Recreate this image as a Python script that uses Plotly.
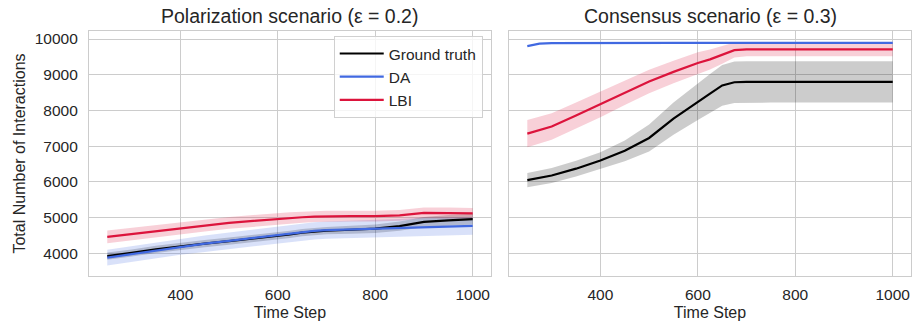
import plotly.graph_objects as go
from plotly.subplots import make_subplots

# ---- data ----
time_steps = [250, 275, 300, 350, 400, 450, 500, 550, 600, 625, 650, 675, 700, 750, 800, 850, 900, 950, 1000]

# Polarization scenario (eps = 0.2)
gt_pol = [3920, 3960, 4010, 4110, 4200, 4270, 4340, 4410, 4480, 4530, 4580, 4610, 4635, 4660, 4690, 4760, 4880, 4920, 4955]
gt_pol_sd = [100, 100, 100, 100, 100, 100, 100, 100, 100, 100, 100, 100, 100, 110, 120, 130, 140, 150, 150]
da_pol = [3880, 3930, 3990, 4090, 4190, 4270, 4350, 4430, 4510, 4550, 4600, 4630, 4650, 4670, 4690, 4710, 4750, 4765, 4770]
da_pol_sd = [220, 220, 222, 225, 228, 230, 232, 235, 238, 240, 240, 242, 244, 245, 246, 248, 250, 250, 250]
lbi_pol = [4460, 4500, 4550, 4630, 4710, 4780, 4850, 4910, 4970, 4990, 5010, 5030, 5040, 5040, 5040, 5060, 5130, 5130, 5120]
lbi_pol_sd = [180, 178, 176, 172, 170, 168, 165, 162, 160, 158, 156, 155, 155, 152, 150, 150, 150, 150, 150]

# Consensus scenario (eps = 0.3)
gt_con = [6050, 6110, 6180, 6370, 6600, 6870, 7230, 7770, 8250, 8470, 8700, 8790, 8800, 8800, 8800, 8800, 8800, 8800, 8800]
gt_con_sd = [200, 205, 210, 220, 230, 290, 380, 450, 520, 550, 570, 580, 580, 580, 580, 580, 580, 580, 580]
da_con = [9800, 9870, 9885, 9890, 9890, 9890, 9890, 9890, 9890, 9890, 9890, 9890, 9890, 9890, 9890, 9890, 9890, 9890, 9890]
da_con_sd = [15, 12, 10, 10, 10, 10, 10, 10, 10, 10, 10, 10, 10, 10, 10, 10, 10, 10, 10]
lbi_con = [7350, 7450, 7550, 7860, 8170, 8500, 8810, 9080, 9330, 9430, 9560, 9690, 9710, 9710, 9710, 9710, 9710, 9710, 9710]
lbi_con_sd = [380, 375, 370, 365, 360, 345, 330, 315, 300, 280, 250, 210, 190, 190, 190, 190, 190, 190, 190]

titles = ["Polarization scenario (ε = 0.2)", "Consensus scenario (ε = 0.3)"]
series_names = ["Ground truth", "DA", "LBI"]
colors = ["#000000", "#4169E1", "#DC143C"]
band_colors = ["rgba(0,0,0,0.2)", "rgba(65,105,225,0.2)", "rgba(220,20,60,0.2)"]

x_ticks = [400, 600, 800, 1000]
y_ticks = [4000, 5000, 6000, 7000, 8000, 9000, 10000]
y_tick_labels = ["4000", "5000", "6000", "7000", "8000", "9000", "10000"]

panels = [
    [(gt_pol, gt_pol_sd), (da_pol, da_pol_sd), (lbi_pol, lbi_pol_sd)],
    [(gt_con, gt_con_sd), (da_con, da_con_sd), (lbi_con, lbi_con_sd)],
]

FONT = "Liberation Sans, Arial, sans-serif"
TXT = "#262626"
GRID = "#cccccc"

fig = make_subplots(rows=1, cols=2, shared_yaxes=True, horizontal_spacing=0.022,
                    subplot_titles=titles)

for c, panel in enumerate(panels, start=1):
    for i, (vals, sd) in enumerate(panel):
        upper = [v + s for v, s in zip(vals, sd)]
        lower = [v - s for v, s in zip(vals, sd)]
        fig.add_trace(go.Scatter(x=time_steps, y=upper, mode="lines", line=dict(width=0),
                                 showlegend=False, hoverinfo="skip"), row=1, col=c)
        fig.add_trace(go.Scatter(x=time_steps, y=lower, mode="lines", line=dict(width=0),
                                 fill="tonexty", fillcolor=band_colors[i],
                                 showlegend=False, hoverinfo="skip"), row=1, col=c)
    for i, (vals, sd) in enumerate(panel):
        fig.add_trace(go.Scatter(x=time_steps, y=vals, mode="lines", name=series_names[i],
                                 line=dict(color=colors[i], width=2.2),
                                 showlegend=(c == 1)), row=1, col=c)

axis_common = dict(showgrid=True, gridcolor=GRID, gridwidth=1, showline=True, mirror=True,
                   linecolor=GRID, linewidth=1.25, zeroline=False,
                   ticks="outside", tickcolor="rgba(0,0,0,0)",
                   tickfont=dict(family=FONT, size=15.5, color=TXT))

for c in (1, 2):
    fig.update_xaxes(range=[212.5, 1037.5], tickvals=x_ticks, ticklen=4,
                     title=dict(text="Time Step", font=dict(family=FONT, size=16, color=TXT), standoff=5),
                     row=1, col=c, **axis_common)
    fig.update_yaxes(range=[3365, 10225], tickvals=y_ticks, ticktext=y_tick_labels, ticklen=7,
                     row=1, col=c, **axis_common)

fig.update_yaxes(title=dict(text="Total Number of Interactions", font=dict(family=FONT, size=16, color=TXT),
                            standoff=5), row=1, col=1)
fig.update_yaxes(showticklabels=False, row=1, col=2)

for ann in fig.layout.annotations:
    ann.font = dict(family=FONT, size=19.5, color=TXT)
    ann.yshift = 2

fig.update_layout(
    width=915, height=328,
    margin=dict(l=89, r=4, t=31, b=52),
    paper_bgcolor="white", plot_bgcolor="white",
    font=dict(family=FONT, color=TXT),
    legend=dict(x=0.479, y=0.98, xanchor="right", yanchor="top", traceorder="normal",
                bgcolor="rgba(255,255,255,0.8)", bordercolor="#d0d0d0", borderwidth=1,
                font=dict(family=FONT, size=15.5, color=TXT), itemwidth=44,
                tracegroupgap=0),
)

fig.write_html("out.html")
